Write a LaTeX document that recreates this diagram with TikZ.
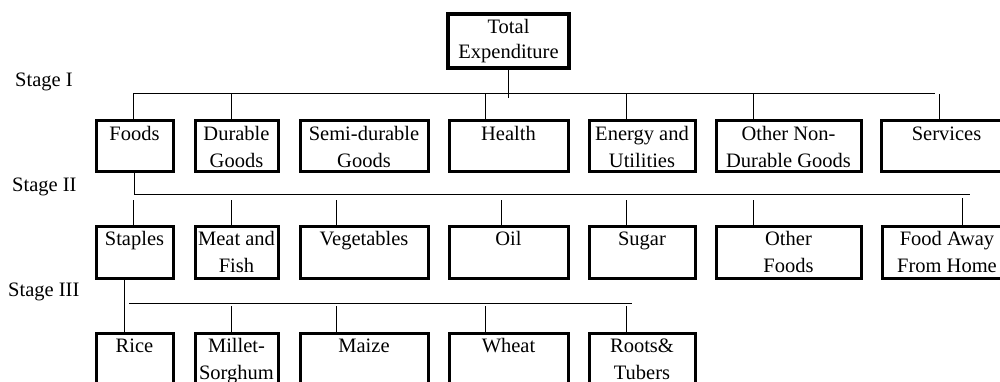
\documentclass[tikz,border=0pt]{standalone}
\usepackage{fontspec}
\setmainfont{Liberation Serif}
\newcommand\catbox[6]{%
  \node[cbox] (#1) at ({#2+1.5},{#3+1.5})
    {\parbox[t][\dimexpr #5pt-#3pt-3pt\relax][t]{\dimexpr #4pt-#2pt-3pt\relax}{\centering\rule{0pt}{19.5pt}#6}};}
\begin{document}
\begin{tikzpicture}[x=1pt,y=-1pt,
  font=\fontsize{20.5}{27}\selectfont,
  cbox/.style={draw, line width=3pt, inner sep=0pt, anchor=north west},
  tbox/.style={draw, line width=4pt, inner sep=0pt, anchor=north west},
  stagelbl/.style={inner sep=0pt, anchor=base west},
  conn/.style={draw, line width=1pt}]
\useasboundingbox (0,0) rectangle (1000,382);
\clip (0,0) rectangle (1000,382);

% stage labels
\node[stagelbl] (s1) at (15,87) {Stage I};
\node[stagelbl] (s2) at (12,191) {Stage II};
\node[stagelbl] (s3) at (8,296) {Stage III};

% top
\node[tbox] (total) at (446,12) {\parbox[t][54pt][t]{121pt}{\centering\rule{0pt}{20pt}Total\\[-2pt]Expenditure}};

% row 1
\catbox{foods}{93}{118}{173}{172}{Foods}
\catbox{durable}{192}{118}{278}{172}{Durable\\Goods}
\catbox{semi}{297}{118}{428}{172}{Semi-durable\\Goods}
\catbox{health}{446}{118}{568}{172}{Health}
\catbox{energy}{586}{118}{695}{172}{Energy and\\Utilities}
\catbox{othernd}{713}{118}{861}{172}{Other Non-\\Durable Goods}
\catbox{services}{878}{118}{1012}{172}{Services}

% row 2
\catbox{staples}{93}{223}{173}{278}{Staples}
\catbox{meat}{192}{223}{278}{278}{Meat and\\Fish}
\catbox{veg}{297}{223}{428}{278}{Vegetables}
\catbox{oil}{446}{223}{568}{278}{Oil}
\catbox{sugar}{586}{223}{695}{278}{Sugar}
\catbox{otherfoods}{713}{223}{861}{278}{Other\\Foods}
\catbox{away}{879}{223}{1012}{278}{Food Away\\From Home}

% row 3
\catbox{rice}{93}{330}{173}{392}{Rice}
\catbox{millet}{192}{330}{278}{392}{Millet-\\Sorghum}
\catbox{maize}{297}{330}{428}{392}{Maize}
\catbox{wheat}{446}{330}{568}{392}{Wheat}
\catbox{roots}{586}{330}{695}{392}{Roots\&\\Tubers}

% ---- stage I connectors
\coordinate (b1L) at (133,94);
\coordinate (b1R) at (935,94);
\coordinate (t1total) at (508,98);
\coordinate (t1durable) at (231,94);
\coordinate (t1health) at (485,94);
\coordinate (t1energy) at (626,94);
\coordinate (t1othernd) at (753,94);
\coordinate (t1services) at (939,94);
\path[conn] (b1L) -- (b1R);
\path[conn] (total.south -| t1total) -- (t1total);
\path[conn] (b1L) -- (b1L |- foods.north);
\path[conn] (t1durable) -- (t1durable |- durable.north);
\path[conn] (t1health) -- (t1health |- health.north);
\path[conn] (t1energy) -- (t1energy |- energy.north);
\path[conn] (t1othernd) -- (t1othernd |- othernd.north);
\path[conn] (t1services) -- ([yshift=-3pt]t1services |- services.north);

% ---- stage II connectors
\coordinate (b2L) at (134,194);
\coordinate (b2R) at (970,194);
\coordinate (t2staples) at (133,200);
\coordinate (t2meat) at (231,200);
\coordinate (t2veg) at (336,200);
\coordinate (t2oil) at (501,200);
\coordinate (t2sugar) at (626,200);
\coordinate (t2otherfoods) at (753,200);
\coordinate (t2away) at (962,198);
\path[conn] (b2L |- foods.south) -- (b2L) -- (b2R);
\path[conn] (t2staples) -- (t2staples |- staples.north);
\path[conn] (t2meat) -- (t2meat |- meat.north);
\path[conn] (t2veg) -- (t2veg |- veg.north);
\path[conn] (t2oil) -- (t2oil |- oil.north);
\path[conn] (t2sugar) -- (t2sugar |- sugar.north);
\path[conn] (t2otherfoods) -- (t2otherfoods |- otherfoods.north);
\path[conn] (t2away) -- (t2away |- away.north);

% ---- stage III connectors
\coordinate (b3L) at (129,303);
\coordinate (b3R) at (632,303);
\coordinate (t3rice) at (124,300);
\coordinate (t3millet) at (231,306);
\coordinate (t3maize) at (336,306);
\coordinate (t3wheat) at (485,306);
\coordinate (t3roots) at (626,306);
\path[conn] (b3L) -- (b3R);
\path[conn] (t3rice |- staples.south) -- (t3rice |- rice.north);
\path[conn] (t3millet) -- (t3millet |- millet.north);
\path[conn] (t3maize) -- (t3maize |- maize.north);
\path[conn] (t3wheat) -- (t3wheat |- wheat.north);
\path[conn] (t3roots) -- (t3roots |- roots.north);
\end{tikzpicture}
\end{document}
